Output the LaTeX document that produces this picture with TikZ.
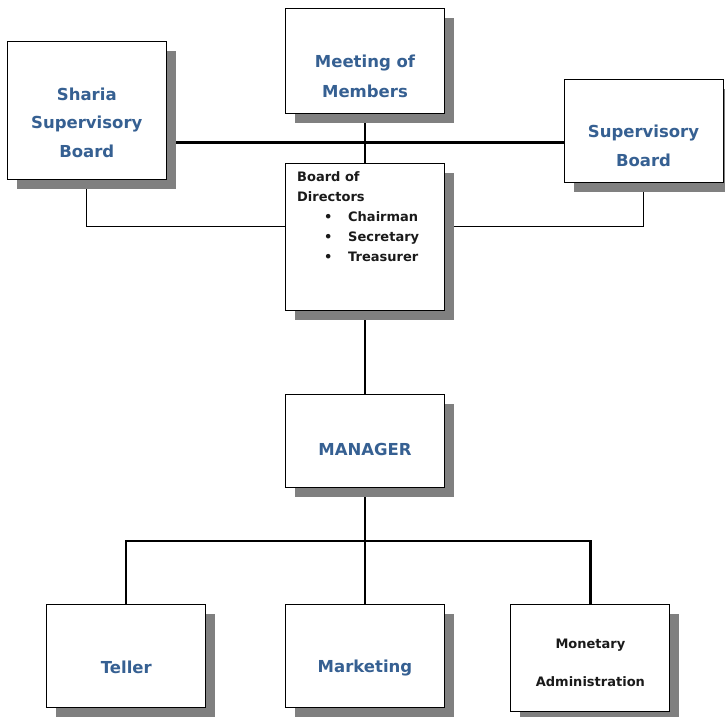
\documentclass[tikz,border=0pt]{standalone}
\usepackage{fontspec}
\setmainfont{DejaVu Sans}
\usetikzlibrary{shadows,backgrounds}
\definecolor{headblue}{HTML}{366092}
\definecolor{shadowgray}{HTML}{808080}
\definecolor{bodytext}{HTML}{1A1A1A}
\tikzset{
  orgbox/.style={draw=black, line width=1pt, fill=white, rectangle,
    minimum width=159pt, inner sep=0pt,
    general shadow={fill=shadowgray, shadow xshift=9.5pt, shadow yshift=-9.5pt}},
  bluelabel/.style={font=\bfseries\fontsize{16.5}{28.5}\selectfont, text=headblue,
    align=center, inner sep=0pt},
  darklabel/.style={font=\bfseries\fontsize{13}{20}\selectfont, text=bodytext,
    align=left, inner sep=0pt},
  mainline/.style={line width=2.2pt, draw=black},
  thinline/.style={line width=1.1pt, draw=black}
}
\begin{document}
\begin{tikzpicture}[x=1pt, y=-1pt]
\useasboundingbox (0,0) rectangle (725,716);

% boxes
\node[orgbox, minimum height=138pt] (sharia) at (86.8,110.3) {};
\node[orgbox, minimum height=105pt] (meeting) at (365,60.7) {};
\node[orgbox, minimum height=147pt] (bod) at (365,236.5) {};
\node[orgbox, minimum height=103pt] (super) at (643.5,130.5) {};
\node[orgbox, minimum height=93pt] (mgr) at (365,440.5) {};
\node[orgbox, minimum height=103pt] (teller) at (126.3,655.5) {};
\node[orgbox, minimum height=103pt] (market) at (365,655.5) {};
\node[orgbox, minimum height=107pt] (monet) at (590.4,658) {};

% labels
\node[bluelabel] (sharialbl) at (86.8,122.5) {Sharia\\Supervisory\\Board};
\node[bluelabel, font=\bfseries\fontsize{16.5}{30}\selectfont] (meetinglbl) at (365,76) {Meeting of\\Members};
\node[bluelabel] (superlbl) at (643.5,146) {Supervisory\\Board};
\node[bluelabel] (mgrlbl) at (365,449) {MANAGER};
\node[bluelabel] (tellerlbl) at (126.3,667) {Teller};
\node[bluelabel] (marketlbl) at (365,668) {Marketing};
\node[darklabel, align=center, font=\bfseries\fontsize{13}{38}\selectfont] (monetlbl) at (590.4,663) {Monetary\\Administration};
\node[darklabel, anchor=north west] (bodlbl) at (297,171)
  {Board of\\Directors\\
   \hspace{27pt}\makebox[24pt][l]{\textbullet}Chairman\\
   \hspace{27pt}\makebox[24pt][l]{\textbullet}Secretary\\
   \hspace{27pt}\makebox[24pt][l]{\textbullet}Treasurer};

% connector helpers
\coordinate (topbus) at (0,142.5);
\coordinate (sidebus) at (0,226.5);
\coordinate (lowbus) at (0,541);

\begin{scope}[on background layer]
  \draw[mainline] (sharia.east |- topbus) -- (super.west |- topbus);
  \draw[mainline] (meeting.south) -- (bod.north);
  \draw[thinline] (sharia.south) |- (bod.west |- sidebus);
  \draw[thinline] (super.south) |- (bod.east |- sidebus);
  \draw[mainline] (bod.south) -- (mgr.north);
  \draw[mainline] (mgr.south) -- (market.north);
  \draw[mainline] (teller.north) |- (monet.north |- lowbus) -- (monet.north);
\end{scope}
\end{tikzpicture}
\end{document}
